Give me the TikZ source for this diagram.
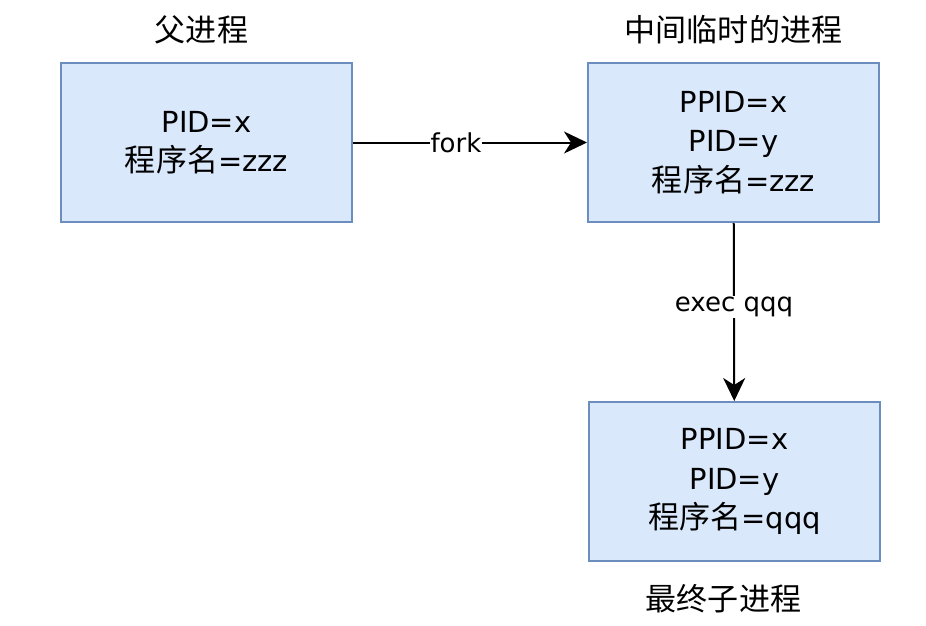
\documentclass[tikz,border=0pt]{standalone}
\usepackage{fontspec}
\setmainfont{DejaVu Sans}
\newfontfamily\cjk[Scale=1.07]{Noto Sans CJK SC}
\usetikzlibrary{positioning,arrows.meta}
\definecolor{procfill}{RGB}{218,232,252}
\definecolor{procline}{RGB}{108,142,191}

\begin{document}
\begin{tikzpicture}[
  x=1pt, y=-1pt,
  proc/.style={draw=procline, fill=procfill, line width=2pt, minimum width=291pt,
               minimum height=159pt, align=center, font=\fontsize{29}{39.5}\selectfont,
               execute at begin node={\rule{0pt}{27pt}}},
  title/.style={inner sep=0pt, font=\fontsize{29}{35}\selectfont\cjk},
  arr/.style={-{Stealth[length=23pt, width=22pt, inset=7pt]}, line width=2pt},
  lbl/.style={fill=white, inner sep=1pt, font=\fontsize{26}{30}\selectfont},
]
\useasboundingbox (0,0) rectangle (926,625);

% processes
\node[proc] (parent) at (206.5,142.5) {PID=x \\ {\cjk 程序名}=zzz};
\node[proc, right=234pt of parent] (middle) {PPID=x \\ PID=y \\ {\cjk 程序名}=zzz};
\node[proc, below=178pt of middle, xshift=1pt] (child) {PPID=x \\ PID=y \\ {\cjk 程序名}=qqq};

% titles
\node[title, above=18pt of parent, xshift=-5pt] (ttlparent) {父进程};
\node[title, above=18pt of middle] (ttlmiddle) {中间临时的进程};
\node[title, below=22pt of child, xshift=-11pt] (ttlchild) {最终子进程};

% connections
\draw[arr] (parent) -- node[lbl, pos=0.44] {fork} (middle);
\draw[arr] (middle) -- node[lbl, pos=0.47] {exec qqq} (child);
\end{tikzpicture}
\end{document}
